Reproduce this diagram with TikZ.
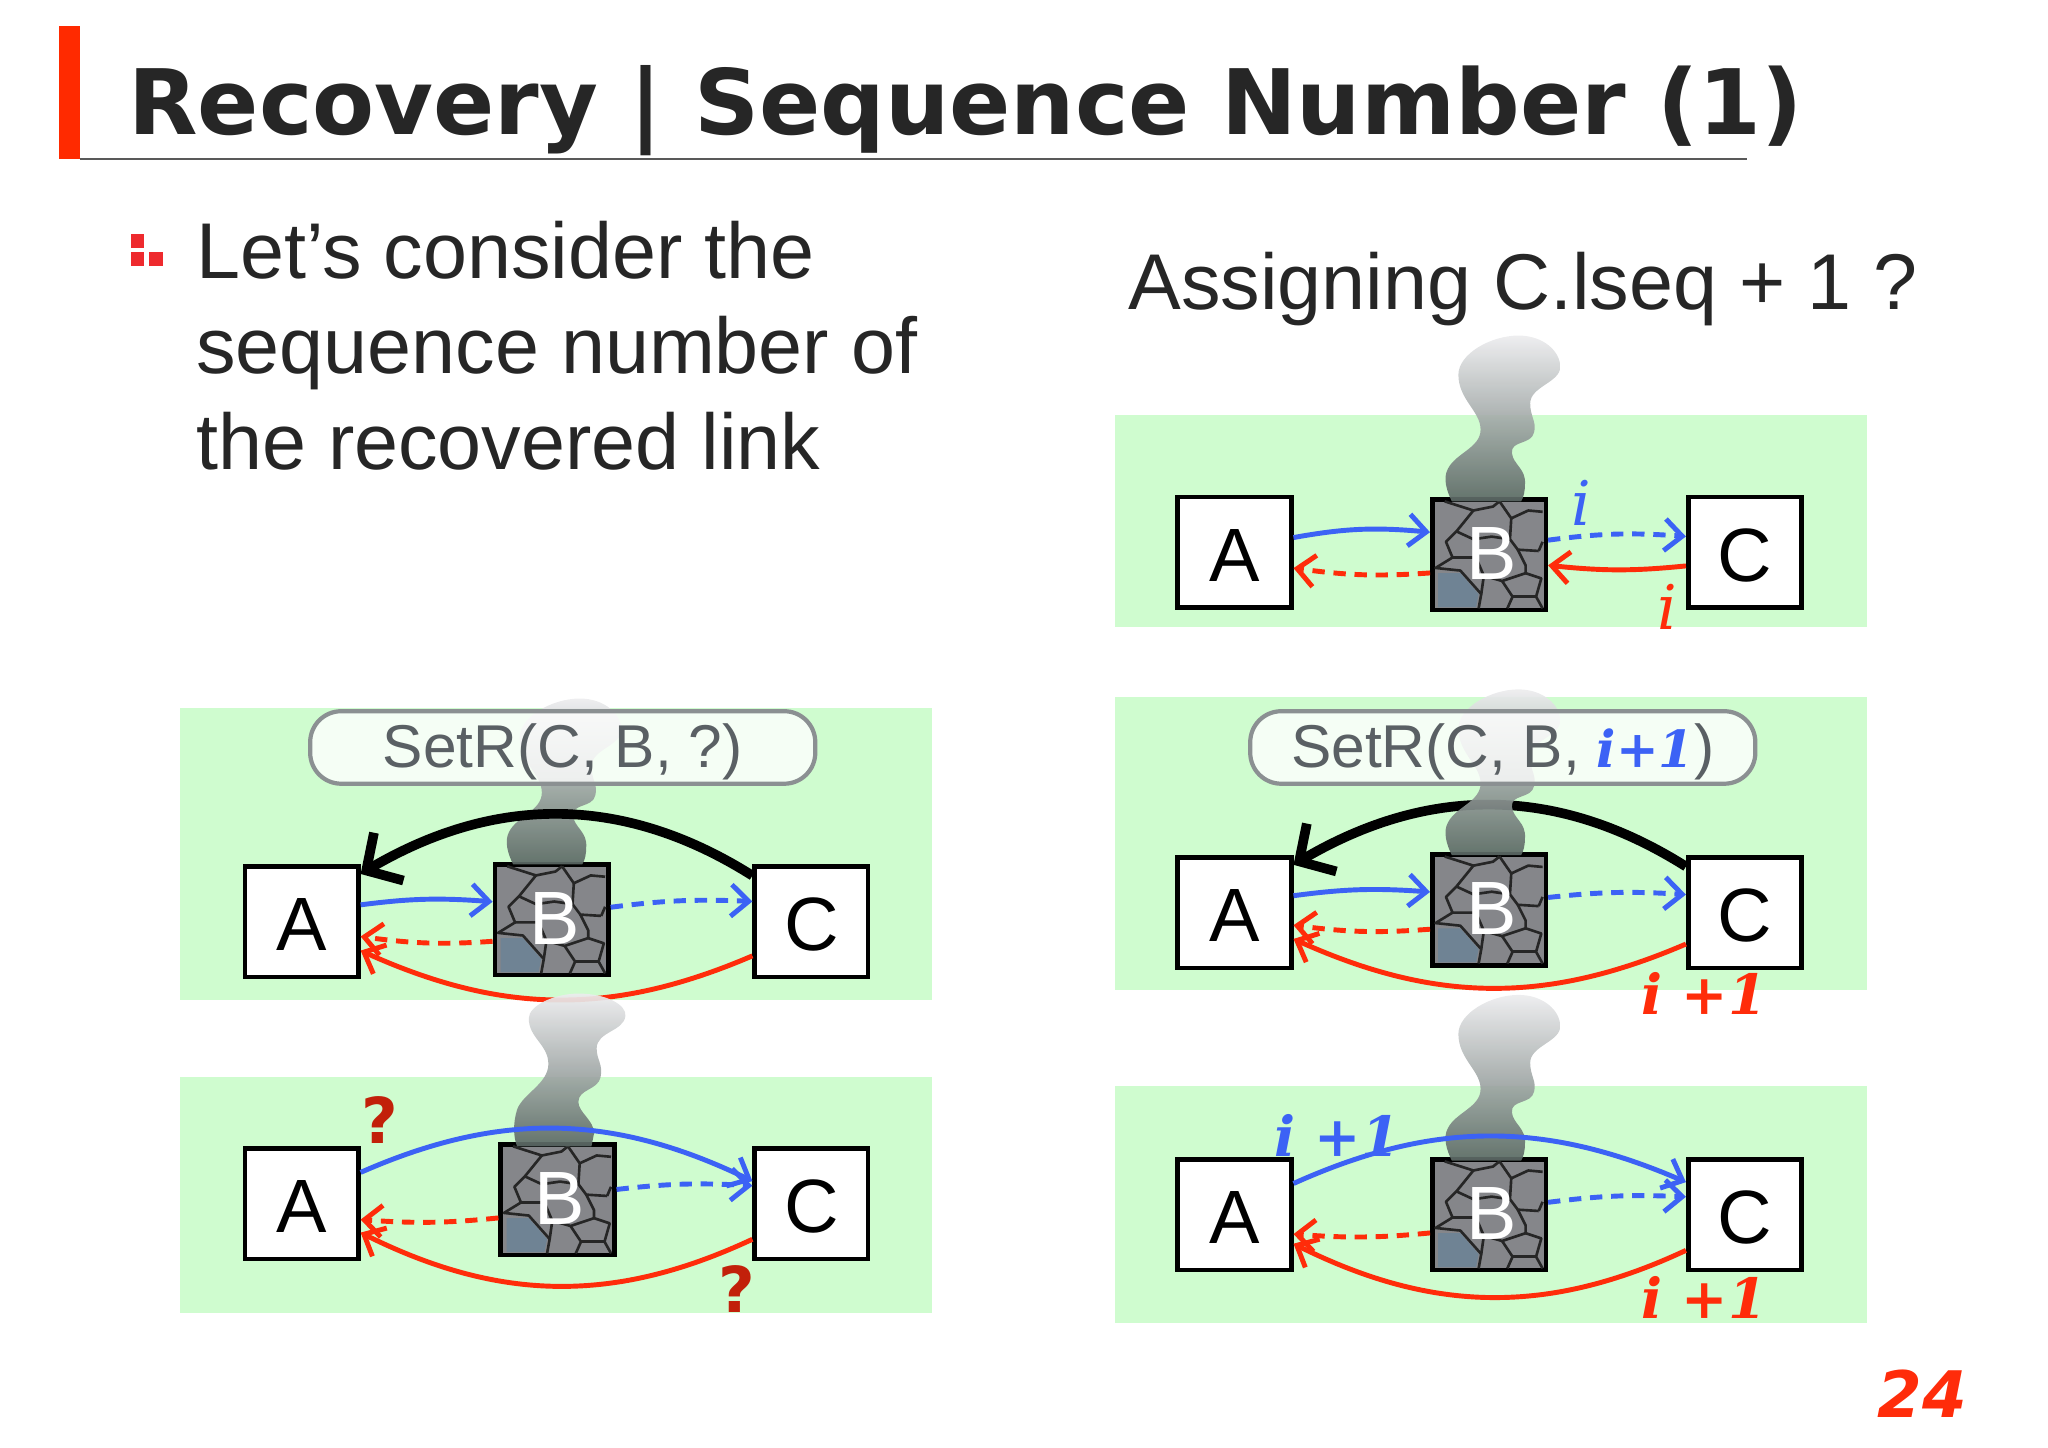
\documentclass[tikz,border=0pt]{standalone}
\usepackage{fontspec}
\setmainfont{Liberation Sans}
\newfontfamily\headfont{DejaVu Sans}
\newfontfamily\markfont{DejaVu Serif}
\usetikzlibrary{arrows.meta, bending}

\definecolor{panelgreen}{HTML}{CFFCCF}
\definecolor{linkblue}{HTML}{3C62F5}
\definecolor{linkred}{HTML}{FF2C0A}
\definecolor{barred}{HTML}{FF2A00}
\definecolor{dotred}{HTML}{EE2A2E}
\definecolor{askred}{HTML}{C2200A}
\definecolor{inkgray}{HTML}{262626}
\definecolor{labelgray}{HTML}{5A6064}
\definecolor{stonegray}{HTML}{85868A}
\definecolor{stoneblue}{HTML}{6F8394}
\definecolor{smoketop}{HTML}{ECECEE}
\definecolor{smokebot}{HTML}{5B6864}

\tikzset{
  panel/.style={fill=panelgreen},
  router/.style={draw=black, line width=2.6pt, fill=white, minimum width=2.27cm, minimum height=2.21cm,
    inner sep=0pt, text height=33pt, text depth=0pt, font=\fontsize{43}{43}\selectfont},
  broken/.style={router, fill=stonegray},
  crack/.style={line width=1.5pt, black!85, line join=round},
  brokenname/.style={inner sep=0pt, text=white, font=\fontsize{43}{43}\selectfont},
  smoke/.style={top color=smoketop, bottom color=smokebot, fill opacity=.92, draw=none},
  callout/.style={draw=labelgray!70, line width=2.4pt, rounded corners=0.62cm, fill=white, fill opacity=.8, text opacity=1,
    text=labelgray, minimum width=10.1cm, minimum height=1.45cm, inner sep=0pt, text height=29pt, text depth=6.6pt,
    font=\fontsize{34.4}{36}\selectfont},
  >={Straight Barb[length=10pt, width=18pt, flex=1]},
  sendblue/.style={->, linkblue, line width=2.8pt},
  sendred/.style={->, linkred, line width=2.8pt},
  dash blue/.style={sendblue, dash pattern=on 7pt off 5pt},
  dash red/.style={sendred, dash pattern=on 7pt off 5pt},
  setr/.style={->, black, line width=5.5pt, >={Straight Barb[length=15pt, width=32pt, flex=1]}},
  seqno/.style={inner sep=0pt, anchor=base west, font=\markfont\bfseries\itshape\fontsize{31.5}{33}\selectfont},
  thin seqno/.style={inner sep=0pt, font=\markfont\itshape\fontsize{35}{35}\selectfont},
  ask/.style={inner sep=0pt, text=askred, font=\headfont\bfseries\fontsize{36}{36}\selectfont}
}

% broken router: name, x, y of its centre
\newcommand{\brokenat}[3]{
  \node[broken] (#1) at (#2,#3) {};
  \begin{scope}[shift={(#2,#3)}]
    \fill[stoneblue] (-39,14) -- (-22,14) -- (-8,30) -- (-10,40) -- (-39,40) -- cycle;
    \draw[crack] (-34,-41) -- (-12,-34) -- (-25,-18) -- (-33,-10) -- (-28,2) -- (-41,10) -- (-22,12) -- (-6,30) -- (-8,41);
    \draw[crack] (-12,-34) -- (3,-37) -- (8,-41);
    \draw[crack] (8,-41) -- (17,-28) -- (16,-12) -- (22,-4) -- (38,-3);
    \draw[crack] (17,-28) -- (30,-34) -- (41,-33);
    \draw[crack] (-25,-18) -- (-12,-12) -- (2,-14) -- (16,-12);
    \draw[crack] (-28,2) -- (-10,2) -- (-4,16) -- (-6,30);
    \draw[crack] (22,-4) -- (28,8) -- (28,14) -- (40,18) -- (36,32) -- (41,41);
    \draw[crack] (28,14) -- (10,20) -- (-4,16);
    \draw[crack] (10,20) -- (18,32) -- (14,41);
    \draw[crack] (18,32) -- (36,32);
    \draw[crack] (38,-3) -- (41,-10);
  \end{scope}
  \node[brokenname] (#1name) at (#2+2,#3-1) {B};
}

% rising smoke, x y = top left corner of the broken router
\newcommand{\smokeat}[2]{
  \shade[smoke, shift={(#1,#2)}] (66,-124) .. controls (85,-124) and (98,-112) .. (98,-100)
    .. controls (98,-88) and (75,-85) .. (75,-72) .. controls (75,-62) and (80,-58) .. (78,-50)
    .. controls (76,-40) and (60,-44) .. (61,-34) .. controls (62,-25) and (72,-22) .. (71,-10)
    .. controls (71,-5) and (70,0) .. (68,3) -- (15,3) .. controls (11,-5) and (8,-15) .. (12,-22)
    .. controls (18,-34) and (37,-38) .. (37,-52) .. controls (37,-66) and (20,-75) .. (20,-94)
    .. controls (20,-110) and (45,-124) .. (66,-124) -- cycle;
}

\begin{document}
\begin{tikzpicture}[x=0.02611cm, y=-0.02611cm]
\useasboundingbox (0,0) rectangle (1568.6,1108.3);

%% title
\fill[barred] (45,20) rectangle (61,122);
\draw[black!65, line width=0.9pt] (61,122) -- (1338,122);
\node[inner sep=0pt, anchor=base west, text=inkgray, font=\headfont\bfseries\fontsize{51.4}{52}\selectfont] (title) at (98,103) {Recovery | Sequence Number (1)};

%% left text
\fill[dotred] (100,179) rectangle (110,190);
\fill[dotred] (100,193) rectangle (110,204);
\fill[dotred] (114,193) rectangle (125,204);
\node[inner sep=0pt, anchor=north west, align=left, text=inkgray, font=\fontsize{45}{54.3}\selectfont] (intro) at (150,169) {Let’s consider the\\sequence number of\\the recovered link};
\node[inner sep=0pt, anchor=base west, text=inkgray, font=\fontsize{45}{45}\selectfont] (assign) at (864,237) {Assigning C.lseq + 1 ?};

%% page number
\node[inner sep=0pt, anchor=base east, text=linkred, font=\headfont\bfseries\itshape\fontsize{36.5}{38}\selectfont] (page) at (1507,1086) {24};

%% panels
\fill[panel] (854,318) rectangle (1430,480);
\fill[panel] (854,534) rectangle (1430,758);
\fill[panel] (854,832) rectangle (1430,1013);
\fill[panel] (138,542) rectangle (714,766);
\fill[panel] (138,825) rectangle (714,1006);

% top right
\node[router] (a1) at (945.5,423) {A};
\brokenat{b1}{1140.5}{425}
\node[router] (c1) at (1336.5,423) {C};
\smokeat{1097}{381}
\draw[sendblue] (a1.14) to[bend left=8] (b1.159);
\draw[dash blue] (b1.14) to[bend left=6] (c1.165);
\draw[sendred] (c1.193) to[bend left=6] (b1.-10);
\draw[dash red] (b1.197) to[bend left=6] (a1.-15);
\node[thin seqno, text=linkblue] (i1) at (1211,385) {i};
\node[thin seqno, text=linkred] (i2) at (1277,465) {i};

% middle right
\node[router] (a2) at (945.5,699) {A};
\brokenat{b2}{1140.5}{697}
\node[router] (c2) at (1336.5,699) {C};
\draw[setr] (c2.142) to[bend right=32] (a2.39);
\smokeat{1097}{652}
\draw[sendblue] (a2.16) to[bend left=6] (b2.163);
\draw[dash blue] (b2.12) to[bend left=5] (c2.163);
\draw[dash red] (b2.198) to[bend left=6] (a2.-12);
\draw[sendred] (c2.208) to[bend left=24] (a2.-24);
\node[callout] (set2) at (1151,572.5) {SetR(C, B, {\color{linkblue}\markfont\bfseries\itshape\fontsize{29}{36}\selectfont i+1})};
\node[seqno, text=linkred] (n2) at (1257,777) {i +1};

% bottom right
\node[router] (a3) at (945.5,930.5) {A};
\brokenat{b3}{1140.5}{930.5}
\node[router] (c3) at (1336.5,930.5) {C};
\smokeat{1097}{886}
\draw[sendblue] (a3.28) to[bend left=24] (c3.151);
\draw[dash blue] (b3.12) to[bend left=5] (c3.163);
\draw[dash red] (b3.197) to[bend left=5] (a3.-18);
\draw[sendred] (c3.211) to[bend left=26] (a3.-26);
\node[seqno, text=linkblue] (n3) at (976,886) {i +1};
\node[seqno, text=linkred] (n4) at (1257,1010) {i +1};

% upper left
\node[router] (a4) at (231,706) {A};
\brokenat{b4}{422.5}{704.5}
\node[router] (c4) at (621.5,706) {C};
\smokeat{378}{659}
\draw[setr] (c4.142) to[bend right=32] (a4.39);
\draw[sendblue] (a4.16) to[bend left=6] (b4.163);
\draw[dash blue] (b4.12) to[bend left=5] (c4.161);
\draw[dash red] (b4.200) to[bend left=6] (a4.-14);
\draw[sendred] (c4.210) to[bend left=24] (a4.-26);
\node[callout] (set4) at (431,572.5) {SetR(C, B, ?)};

% lower left
\node[router] (a5) at (231,922) {A};
\brokenat{b5}{427}{919}
\node[router] (c5) at (621.5,922) {C};
\shade[smoke] (443,761) .. controls (465,761) and (480,770) .. (479,778) .. controls (478,790) and (457,790) .. (457,803)
  .. controls (457,812) and (462,815) .. (460,825) .. controls (458,835) and (443,834) .. (443,844)
  .. controls (443,852) and (455,858) .. (455,868) -- (453,878) -- (396,878) .. controls (393,870) and (393,860) .. (396,850)
  .. controls (400,838) and (420,830) .. (420,815) .. controls (420,800) and (405,795) .. (405,780)
  .. controls (405,770) and (425,761) .. (443,761) -- cycle;
\draw[sendblue] (a5.28) to[bend left=25] (c5.159);
\draw[dash blue] (b5.10) to[bend left=5] (c5.163);
\draw[dash red] (b5.197) to[bend left=5] (a5.-15);
\draw[sendred] (c5.211) to[bend left=26] (a5.-26);
\node[ask] (q1) at (291,858) {?};
\node[ask] (q2) at (564,987) {?};

\end{tikzpicture}
\end{document}
